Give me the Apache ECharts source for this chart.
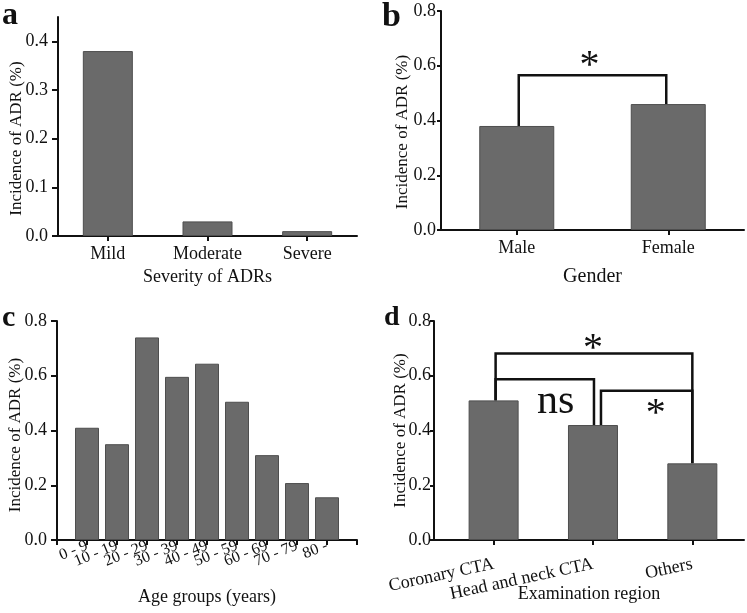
<!DOCTYPE html>
<html><head><meta charset="utf-8">
<script src="https://cdn.jsdelivr.net/npm/echarts@6/dist/echarts.min.js"></script>
<style>html,body{margin:0;padding:0;background:#fff}#c{width:747px;height:613px}</style>
</head><body><div id="c"></div>
<script>
// ---- data ----
const severityCats = ['Mild', 'Moderate', 'Severe'];
const severityVals = [0.38, 0.03, 0.01];
const genderCats = ['Male', 'Female'];
const genderVals = [0.38, 0.46];
const ageCats = ['0 - 9', '10 - 19', '20 - 29', '30 - 39', '40 - 49', '50 - 59', '60 - 69', '70 - 79', '80 -'];
const ageVals = [0.41, 0.35, 0.74, 0.596, 0.644, 0.505, 0.31, 0.208, 0.156];
const regionCats = ['Coronary CTA', 'Head and neck CTA', 'Others'];
const regionVals = [0.51, 0.42, 0.28];
const yTicksA = [0, 0.1, 0.2, 0.3, 0.4];
const yTicksBCD = [0, 0.2, 0.4, 0.6, 0.8];
const bracketsB = [{from: 0, to: 1, h: 0.565, mark: '*'}];
const bracketsD = [
  {from: 0, to: 2, h: 0.681, mark: '*'},
  {from: 0, to: 1, h: 0.587, mark: 'ns'},
  {from: 1, to: 2, h: 0.545, mark: '*'}
];

// ---- styles / layout ----
const FONT = '"Liberation Serif", "Times New Roman", serif';
const INK = '#111';
const BAR = '#6a6a6a';
const BAR_BORDER = '#4e4e4e';
const REGION_START = 0.6;   // panel d: first category sits 0.6 slot from the y axis
const bracketStyleB = [{legs: [2, -2], dx: -3, dy: -17, size: 40}];
const bracketStyleD = [
  {legs: [2, 0], dx: -1, dy: -12, size: 40},
  {legs: [2, 1], dx: 11, dy: 23, size: 42},
  {legs: [8, 0], dx: 9, dy: 16, size: 40}
];

function yAxisDef(gi, max, ticks, gap, shift, margin, tickLen) {
  return {
    type: 'value', gridIndex: gi, min: 0, max: max, position: 'left',
    name: 'Incidence of ADR (%)', nameLocation: 'middle', nameGap: gap, nameMoveOverlap: false,
    nameTextStyle: {fontFamily: FONT, fontSize: 17, color: INK, padding: [0, shift, 0, 0]},
    splitLine: {show: false},
    axisLine: {show: true, onZero: false, lineStyle: {color: INK, width: 2}},
    axisTick: {show: true, length: tickLen, lineStyle: {color: INK, width: 2}, customValues: ticks},
    axisLabel: {customValues: ticks, fontFamily: FONT, fontSize: 18, color: INK, margin: margin,
      showMinLabel: true, showMaxLabel: true, formatter: v => v.toFixed(1)}
  };
}
function xCatAxis(gi, data, name, gap, extra) {
  return Object.assign({
    type: 'category', gridIndex: gi, data: data, position: 'bottom',
    name: name, nameLocation: 'middle', nameGap: gap, nameMoveOverlap: false,
    nameTextStyle: {fontFamily: FONT, fontSize: 18, color: INK},
    axisLine: {show: true, onZero: false, lineStyle: {color: INK, width: 2}},
    axisTick: {show: true, alignWithLabel: true, length: 5, lineStyle: {color: INK, width: 2}},
    axisLabel: {interval: 0, fontFamily: FONT, fontSize: 18, color: INK, margin: 9},
    splitLine: {show: false}
  }, extra || {});
}
function barSeries(i, data, width) {
  return {
    type: 'bar', xAxisIndex: i, yAxisIndex: i, data: data, barWidth: width,
    itemStyle: {color: BAR, borderColor: BAR_BORDER, borderWidth: 1},
    silent: true, animation: false
  };
}
function bracketSeries(i, brackets, vals, styles, base) {
  return {
    type: 'custom', xAxisIndex: i, yAxisIndex: i, animation: false, silent: true,
    data: brackets.map(b => [b.from + base, b.h]),
    renderItem: function (params, api) {
      const b = brackets[params.dataIndex];
      const s = styles[params.dataIndex];
      const p1 = api.coord([b.from + base, vals[b.from]]);
      const p2 = api.coord([b.to + base, vals[b.to]]);
      const hy = api.coord([b.from + base, b.h])[1];
      const x1 = p1[0] + s.legs[0], x2 = p2[0] + s.legs[1];
      const isStar = b.mark === '*';
      return {
        type: 'group',
        children: [
          {type: 'polyline', shape: {points: [[x1, p1[1]], [x1, hy], [x2, hy], [x2, p2[1]]]},
            style: {stroke: INK, lineWidth: 2.5, fill: null}},
          {type: 'text', style: {
            text: b.mark, x: (x1 + x2) / 2 + s.dx, y: hy + s.dy + (isStar ? s.size * 0.2 : 0),
            align: 'center', verticalAlign: 'middle',
            font: s.size + 'px ' + FONT, fill: INK}}
        ]
      };
    }
  };
}

const regionTicks = regionCats.map((c, i) => i + REGION_START);

const chart = echarts.init(document.getElementById('c'), null, {renderer: 'canvas'});
chart.setOption({
  animation: false,
  backgroundColor: '#fff',
  grid: [
    {left: 58, top: 17, width: 299, height: 219},
    {left: 441, top: 11, width: 303, height: 219},
    {left: 57, top: 321, width: 300, height: 219},
    {left: 434, top: 321, width: 310, height: 219}
  ],
  graphic: [
    {type: 'text', left: 2, top: 0, style: {text: 'a', font: 'bold 32px ' + FONT, fill: INK}},
    {type: 'text', left: 382, top: 0, style: {text: 'b', font: 'bold 34px ' + FONT, fill: INK}},
    {type: 'text', left: 2, top: 303, style: {text: 'c', font: 'bold 30px ' + FONT, fill: INK}},
    {type: 'text', left: 384, top: 304, style: {text: 'd', font: 'bold 28px ' + FONT, fill: INK}}
  ],
  xAxis: [
    xCatAxis(0, severityCats, 'Severity of ADRs', 32),
    xCatAxis(1, genderCats, 'Gender', 37, {nameTextStyle: {fontFamily: FONT, fontSize: 20, color: INK}}),
    // empty slots at both ends so the nine groups sit one slot in from each end of the axis
    xCatAxis(2, [''].concat(ageCats, ['']), 'Age groups (years)', 48, {
      boundaryGap: false,
      axisTick: {show: true, length: 5, lineStyle: {color: INK, width: 2}},
      axisLabel: {interval: 0, rotate: 22, fontFamily: FONT, fontSize: 16, color: INK, margin: 5}
    }),
    {
      type: 'value', gridIndex: 3, min: 0, max: 3.12, position: 'bottom',
      name: 'Examination region', nameLocation: 'middle', nameGap: 45, nameMoveOverlap: false,
      nameTextStyle: {fontFamily: FONT, fontSize: 18, color: INK},
      axisLine: {show: true, onZero: false, lineStyle: {color: INK, width: 2}},
      axisTick: {show: true, length: 5, lineStyle: {color: INK, width: 2}, customValues: regionTicks},
      axisLabel: {customValues: regionTicks, rotate: 12, fontSize: 18, margin: 24,
        fontFamily: FONT, color: INK, showMinLabel: true, showMaxLabel: true,
        formatter: v => regionCats[Math.round(v - REGION_START)] || ''},
      splitLine: {show: false}
    }
  ],
  yAxis: [
    yAxisDef(0, 0.45, yTicksA, 33, 24, 10, 6),
    yAxisDef(1, 0.8, yTicksBCD, 30, 23, 5, 4),
    yAxisDef(2, 0.8, yTicksBCD, 33, 9, 10, 6),
    yAxisDef(3, 0.8, yTicksBCD, 25, 0, 3, 4)
  ],
  series: [
    barSeries(0, severityVals, 50),
    barSeries(1, genderVals, 75),
    barSeries(2, ['-'].concat(ageVals, ['-']), 24),
    barSeries(3, regionVals.map((v, i) => [i + REGION_START, v]), 50),
    bracketSeries(1, bracketsB, genderVals, bracketStyleB, 0),
    bracketSeries(3, bracketsD, regionVals, bracketStyleD, REGION_START)
  ]
});
</script>
</body></html>
